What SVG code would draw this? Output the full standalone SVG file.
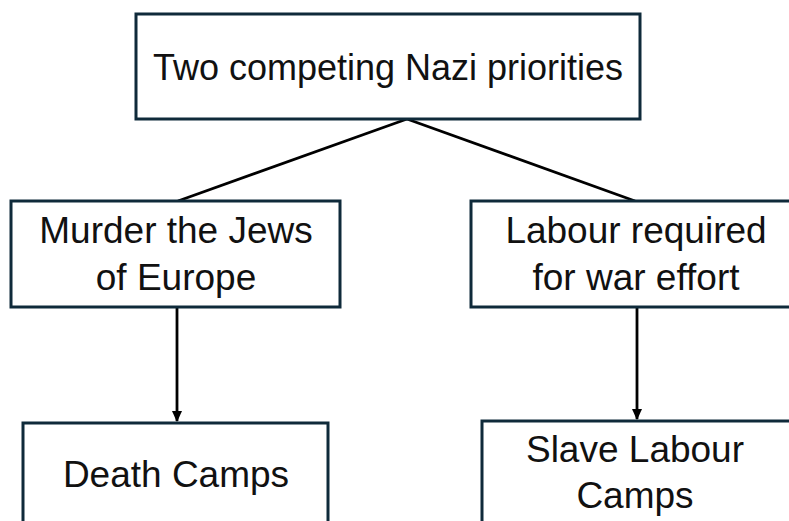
<svg xmlns="http://www.w3.org/2000/svg" width="789" height="521" viewBox="0 0 789 521">
  <style>
    .box { fill: #ffffff; stroke: #0f2a3a; stroke-width: 3; }
    .lbl { font-family: "Liberation Sans", Arial, sans-serif; font-size: 37px; fill: #111111; text-anchor: middle; }
    .conn { stroke: #000000; stroke-width: 2.8; fill: none; }
  </style>
  <defs>
    <marker id="arr" viewBox="0 0 10 10" refX="9" refY="5" markerWidth="4" markerHeight="3.6" orient="auto" markerUnits="strokeWidth" preserveAspectRatio="none">
      <path d="M0,0 L10,5 L0,10 z" fill="#000000"/>
    </marker>
  </defs>
  <rect width="789" height="521" fill="#ffffff"/>
  <g id="connectors">
    <line class="conn" x1="407" y1="119" x2="178" y2="201"/>
    <line class="conn" x1="407" y1="119" x2="635" y2="201"/>
    <line class="conn" x1="177" y1="308" x2="177" y2="421" marker-end="url(#arr)"/>
    <line class="conn" x1="637" y1="308" x2="637" y2="419" marker-end="url(#arr)"/>
  </g>
  <g id="node-top">
    <rect class="box" x="136" y="14" width="504" height="105"/>
    <text class="lbl" x="388" y="80" style="font-size:36px">Two competing Nazi priorities</text>
  </g>
  <g id="node-murder">
    <rect class="box" x="11" y="201" width="329" height="106"/>
    <text class="lbl" x="176" y="243">Murder the Jews</text>
    <text class="lbl" x="176" y="290">of Europe</text>
  </g>
  <g id="node-labour">
    <rect class="box" x="471" y="201" width="330" height="106"/>
    <text class="lbl" x="636" y="243">Labour required</text>
    <text class="lbl" x="636" y="290">for war effort</text>
  </g>
  <g id="node-death">
    <rect class="box" x="23" y="423" width="305" height="120"/>
    <text class="lbl" x="176" y="487">Death Camps</text>
  </g>
  <g id="node-slave">
    <rect class="box" x="482" y="421" width="320" height="120"/>
    <text class="lbl" x="635" y="462">Slave Labour</text>
    <text class="lbl" x="635" y="508">Camps</text>
  </g>
</svg>
